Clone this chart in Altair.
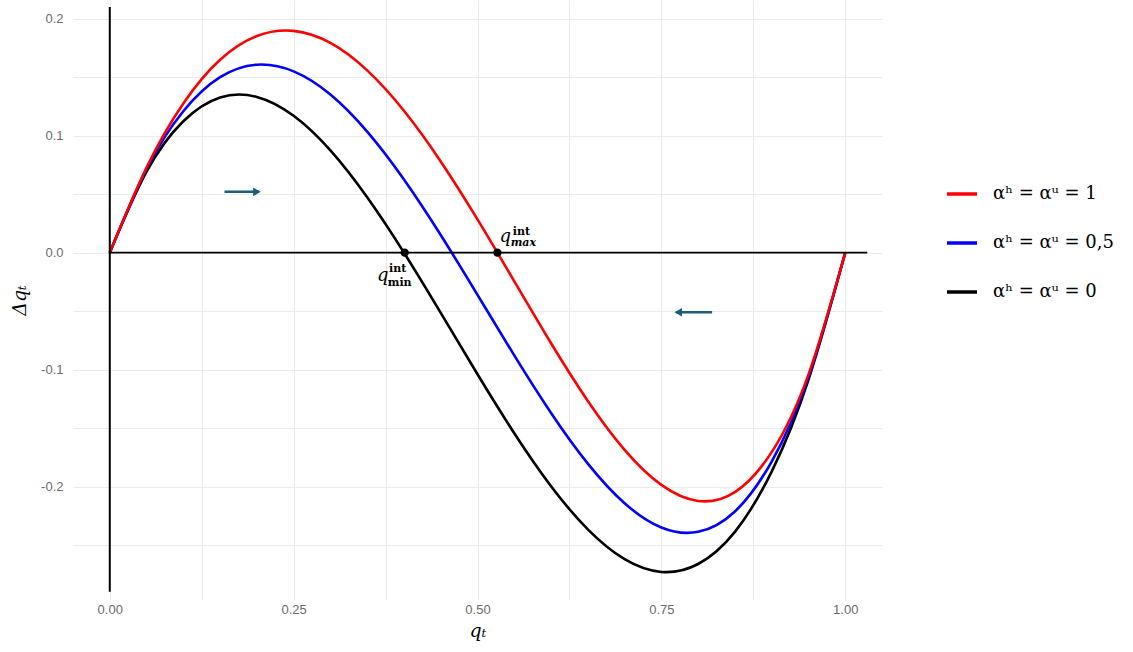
import altair as alt
import pandas as pd

# ---- data ----
q = [0.00, 0.05, 0.10, 0.15, 0.20, 0.25, 0.30, 0.35, 0.40, 0.45, 0.50,
     0.55, 0.60, 0.65, 0.70, 0.75, 0.80, 0.85, 0.90, 0.95, 1.00]
dq_alpha_0 = [0.0, 0.0692, 0.1123, 0.1326, 0.1331, 0.1170, 0.0874, 0.0473, 0.0, -0.0515, -0.1040,
              -0.1544, -0.1997, -0.2366, -0.2621, -0.2730, -0.2662, -0.2387, -0.1872, -0.1087, 0.0]
dq_alpha_05 = [0.0, 0.0715, 0.1209, 0.1500, 0.1607, 0.1550, 0.1352, 0.1035, 0.0626, 0.0151, -0.0361,
               -0.0879, -0.1371, -0.1804, -0.2143, -0.2350, -0.2387, -0.2213, -0.1786, -0.1064, 0.0]
dq_alpha_1 = [0.0, 0.0727, 0.1276, 0.1649, 0.1852, 0.1896, 0.1793, 0.1558, 0.1213, 0.0780, 0.0284,
              -0.0245, -0.0775, -0.1268, -0.1686, -0.1986, -0.2123, -0.2047, -0.1706, -0.1043, 0.0]

series_labels = ["\u03b1\u02b0 = \u03b1\u1d58 = 1", "\u03b1\u02b0 = \u03b1\u1d58 = 0,5", "\u03b1\u02b0 = \u03b1\u1d58 = 0"]
series_colors = ["#ff0000", "#0000ff", "#000000"]

q_int = [0.401, 0.527]            # q_min^int, q_max^int
q_int_dq = [0.0, 0.0]

vline_q = [0.0, 0.0]
vline_dq = [-0.29, 0.21]
hline_q = [0.0, 1.03]
hline_dq = [0.0, 0.0]

arrow_from = [0.156, 0.819]
arrow_to = [0.203, 0.770]
arrow_head = [0.200, 0.773]
arrow_dq = [0.052, -0.051]
arrow_shape = ["triangle-right", "triangle-left"]

x_ticks = [0.0, 0.125, 0.25, 0.375, 0.5, 0.625, 0.75, 0.875, 1.0]
y_ticks = [-0.25, -0.2, -0.15, -0.1, -0.05, 0.0, 0.05, 0.1, 0.15, 0.2]

# ---- tables ----
rows = []
for lab, vals in [(series_labels[2], dq_alpha_0), (series_labels[1], dq_alpha_05), (series_labels[0], dq_alpha_1)]:
    for qq, v in zip(q, vals):
        rows.append({"q": qq, "dq": v, "series": lab})
curves_df = pd.DataFrame(rows)

XS = alt.Scale(domain=[-0.05, 1.05], nice=False, zero=False)
YS = alt.Scale(domain=[-0.297, 0.216], nice=False, zero=False)

x_axis = alt.Axis(values=x_ticks, title="q\u209c",
                  labelExpr="(abs(datum.value*4 - round(datum.value*4)) < 0.001) ? format(datum.value, '.2f') : ''",
                  labelOverlap=False, labelFlush=False, labelPadding=3,
                  titleFont="DejaVu Serif", titleFontStyle="italic", titleFontSize=19,
                  titleFontWeight="normal", titlePadding=5, titleColor="black")
y_axis = alt.Axis(values=y_ticks, title="\u0394q\u209c",
                  labelExpr="(abs(datum.value*10 - round(datum.value*10)) < 0.001) ? replace(format(datum.value, '.1f'), '\u2212', '-') : ''",
                  labelOverlap=False, labelFlush=False, labelPadding=10,
                  titleFont="DejaVu Serif", titleFontStyle="italic", titleFontSize=19,
                  titleFontWeight="normal", titlePadding=11, titleColor="black")

def X(field):
    return alt.X(field, scale=XS, axis=x_axis)

def Y(field):
    return alt.Y(field, scale=YS, axis=y_axis)

curves = alt.Chart(curves_df).mark_line(strokeWidth=2.6, interpolate="natural").encode(
    x=X("q:Q"),
    y=Y("dq:Q"),
    color=alt.Color("series:N", scale=alt.Scale(domain=series_labels, range=series_colors),
                    legend=alt.Legend(title=None, orient="none", legendX=872, legendY=177,
                                      symbolType="stroke", symbolSize=900, symbolStrokeWidth=3.5,
                                      labelFont="DejaVu Serif", labelFontSize=18, labelColor="black",
                                      labelOffset=14, rowPadding=23, padding=0)),
    detail="series:N",
)

vline = alt.Chart(pd.DataFrame({"q": vline_q, "dq": vline_dq})).mark_line(color="black", strokeWidth=2).encode(
    x=X("q:Q"), y=Y("dq:Q"))
hline = alt.Chart(pd.DataFrame({"q": hline_q, "dq": hline_dq})).mark_line(color="black", strokeWidth=1.8).encode(
    x=X("q:Q"), y=Y("dq:Q"))

arrows_df = pd.DataFrame({"x0": arrow_from, "x1": arrow_to, "xh": arrow_head, "dq": arrow_dq, "shape": arrow_shape})
arrow_color = "#1d5e7c"
arrow_shafts = alt.Chart(arrows_df).mark_rule(color=arrow_color, strokeWidth=2.5).encode(
    x=X("x0:Q"), x2="x1:Q", y=Y("dq:Q"))
arrow_heads = alt.Chart(arrows_df).mark_point(color=arrow_color, filled=True, opacity=1, size=75).encode(
    x=X("xh:Q"), y=Y("dq:Q"),
    shape=alt.Shape("shape:N", scale=None, legend=None))

dots_df = pd.DataFrame({"q": q_int, "dq": q_int_dq})
dots = alt.Chart(dots_df).mark_circle(color="black", size=70, opacity=1).encode(
    x=X("q:Q"), y=Y("dq:Q"))

min_df = pd.DataFrame({"q": [q_int[0]], "dq": [0.0]})
max_df = pd.DataFrame({"q": [q_int[1]], "dq": [0.0]})

def ann(df, txt, dx, dy, size, style="normal", weight="normal"):
    return alt.Chart(df).mark_text(text=txt, dx=dx, dy=dy, fontSize=size, font="DejaVu Serif",
                                   fontStyle=style, fontWeight=weight, color="black",
                                   align="center", baseline="alphabetic").encode(
        x=X("q:Q"), y=Y("dq:Q"))

annots = [
    ann(min_df, "q", -22, 28, 18, "italic"),
    ann(min_df, "int", -7, 19, 11, "normal", "bold"),
    ann(min_df, "min", -5, 33, 11, "normal", "bold"),
    ann(max_df, "q", 8, -11, 18, "italic"),
    ann(max_df, "int", 24, -18, 11, "normal", "bold"),
    ann(max_df, "max", 26, -7, 11, "italic", "bold"),
]

chart = alt.layer(curves, vline, hline, arrow_shafts, arrow_heads, dots, *annots).properties(
    width=809, height=600,
    padding={"left": 73, "top": 0, "right": 251, "bottom": 52},
    autosize=alt.AutoSizeParams(type="none"),
    background="white",
).configure_view(stroke=None).configure_axis(
    labelFont="Liberation Sans", labelFontSize=13, labelColor="#6b6b6b",
    gridColor="#ebebeb", gridWidth=1, domain=False, ticks=False,
)

chart.save("out.html", embed_options={"renderer": "svg", "actions": False})
